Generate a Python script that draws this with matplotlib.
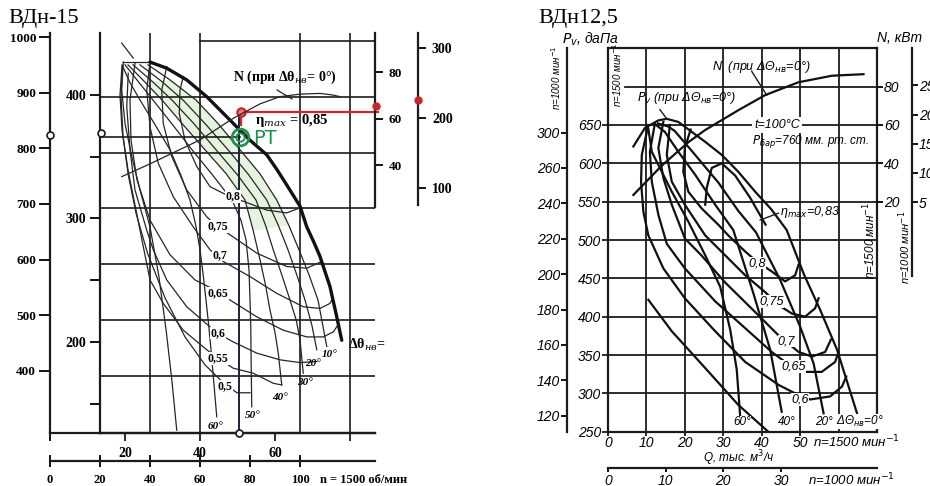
import matplotlib
matplotlib.use('Agg')
import matplotlib.pyplot as plt
from matplotlib import font_manager

W, H = 930, 486

# ---------------- ВДн-15, n = 1500 об/мин : Q (тыс. м3/ч), P (даПа) ----------------
l_deg0_q = [40, 46.7, 54.7, 62.7, 70.7, 76, 80, 86.7, 90.7, 94.7, 100, 102.7, 105.5, 108, 110, 112, 114.5, 116.7]
l_deg0_p = [962, 951, 930, 900, 864, 840, 822, 796, 770, 742, 704, 667, 640, 614, 587, 560, 510, 464]
l_top_q = [29.2, 40]
l_top_p = [962, 962]
l_deg10_q = [39.2, 48, 58.4, 67, 76, 84, 90.7, 95.5, 99.6, 103.7, 107.2, 110.7]
l_deg10_p = [957, 930, 894, 853, 805, 762, 715, 670, 626, 580, 536, 453]
l_deg20_q = [36, 44.5, 53.2, 62, 71.2, 79.5, 86.7, 91.3, 95.2, 98.8, 102, 104.8, 106.7]
l_deg20_p = [957, 928, 894, 852, 805, 760, 715, 670, 626, 580, 536, 490, 447]
l_deg30_q = [33.2, 41, 48.8, 57.5, 66.4, 75, 82.4, 86.2, 89.3, 92.8, 96, 98.5, 100, 101.3]
l_deg30_p = [957, 927, 894, 852, 805, 760, 715, 670, 626, 580, 536, 500, 465, 405]
l_deg40_q = [31.2, 38, 44.8, 53, 62, 70.5, 78, 81.3, 84, 86.2, 88, 90, 91.3, 92.7]
l_deg40_p = [957, 926, 894, 851, 805, 762, 715, 660, 608, 563, 518, 478, 441, 384]
l_deg50_q = [30, 35.5, 41.2, 49, 56.8, 65, 72.8, 76.3, 78.4, 79.6, 80, 80.3, 80.4, 80.7]
l_deg50_p = [957, 926, 894, 850, 805, 760, 715, 680, 644, 590, 536, 490, 447, 345]
l_deg60_q = [28.8, 32, 36, 42, 48, 52.3, 56, 58.3, 60, 61.3, 62.4, 63.5, 64.4, 66.7]
l_deg60_p = [957, 925, 894, 850, 805, 760, 715, 670, 626, 580, 536, 490, 447, 327]
l_edge_q = [29.3, 28.7, 30, 32.7, 36, 40, 43.5, 46.5, 48.8, 50.7]
l_edge_p = [962, 912, 852, 793, 733, 667, 580, 480, 390, 303]

l_eta80_q = [53.3, 52, 51.7, 54, 58.7, 64, 69.3, 76, 86.7, 94.7, 100]
l_eta80_p = [936, 912, 870, 822, 775, 739, 727, 715, 697, 692, 701]
l_eta75_q = [46.7, 44.7, 45.3, 48.7, 54.7, 62.7, 67, 71.3, 82.7, 94.7, 102.7, 108.7]
l_eta75_p = [954, 912, 852, 793, 733, 685, 667, 655, 620, 596, 593, 605]
l_eta70_q = [40, 38.7, 40, 43.3, 49.3, 57.3, 64, 69.3, 80, 90.7, 101.3, 108, 112, 113.2]
l_eta70_p = [962, 912, 846, 781, 721, 667, 626, 605, 578, 548, 524, 521, 530, 540]
l_eta65_q = [34, 32, 32.4, 34.8, 40, 48, 58, 66, 72, 82.7, 93.3, 102.7, 109.3, 113.3, 115]
l_eta65_p = [960, 894, 822, 751, 679, 617, 572, 554, 536, 506, 482, 470, 470, 479, 490]
l_eta60_q = [31.3, 30.7, 32, 34, 38.7, 41.3, 46.7, 54.7, 64, 67.3, 73.3, 82.7, 92, 100, 106.7]
l_eta60_p = [942, 882, 805, 733, 661, 626, 572, 524, 488, 476, 461, 441, 429, 424, 426]
l_eta55_q = [28.8, 28, 28.8, 31.2, 34.4, 37.3, 40, 45.3, 53.3, 62.7, 67.2, 73.3, 81.3, 89.3, 92.7]
l_eta55_p = [955, 903, 840, 769, 697, 632, 572, 530, 482, 447, 432, 414, 405, 387, 384]
l_eta50_q = [29, 28.4, 29.2, 31.3, 34.5, 39, 46, 54, 62, 70, 74.8, 80]
l_eta50_p = [955, 900, 830, 760, 690, 620, 540, 470, 420, 385, 370, 370]

# мощность N, кВт
l_n_q = [28.7, 40, 60, 73.3, 84, 92, 100, 108, 113.3, 116]
l_n_kw = [35, 40.5, 50.8, 60.1, 66.3, 69.4, 70.5, 70.8, 70.1, 69.4]

# рабочая точка
l_op_q, l_op_p = 76.4, 872.6
l_pt_q, l_pt_p = 76, 828
l_op_kw, l_op_far = 65.4, 225.7

l_grid_q = [40, 60, 100, 120]
l_grid_p = [400, 500, 600, 700, 800, 900]
l_scale_p1500 = [400, 500, 600, 700, 800, 900, 1000]
l_scale_p1000 = [200, 300, 400]
l_scale_n = [40, 60, 80]
l_scale_far = [100, 200, 300]
l_scale_q1000 = [20, 40, 60, 80]
l_scale_q1500 = [0, 20, 40, 60, 80, 100]

l_eta_labels = ['0,8', '0,75', '0,7', '0,65', '0,6', '0,55', '0,5']
l_eta_lab_q = [73.2, 67.2, 68, 67.2, 67.2, 67.2, 70]
l_eta_lab_p = [722, 668, 617, 548, 477, 432, 382]
l_deg_labels = ['10°', '20°', '30°', '40°', '50°', '60°']
l_deg_lab_q = [112, 105.2, 102, 92, 81.2, 66]
l_deg_lab_p = [438, 423, 389, 361, 330, 309]

# ---------------- ВДн12,5, n = 1500 мин-1 : Q (тыс. м3/ч), Pv (даПа) ----------------
r_deg0_q = [6.6, 9.6, 13.1, 15.3, 18.3, 21.8, 25.3, 29.6, 33.9, 38.3, 42.5, 46.5, 51, 55.2, 59.6, 64.8]
r_deg0_p = [622, 646, 656, 658, 654, 641, 628, 611, 589, 563, 540, 513, 455, 409, 357, 274]
r_deg20_q = [13, 15.7, 17.4, 22, 28.7, 33.9, 38.5, 44.8, 50, 53.5, 56.1]
r_deg20_p = [652, 648, 642, 615, 575, 538, 510, 448, 387, 339, 274]
r_deg40_q = [12, 14.8, 18.3, 22.7, 27.9, 32.6, 37.8, 42.2, 45.2]
r_deg40_p = [652, 641, 615, 585, 546, 513, 431, 357, 276]
r_deg60_q = [10.5, 11.4, 13.1, 16.6, 20.9, 25.3, 29.2, 31.8, 33.5, 34.4]
r_deg60_p = [645, 615, 598, 563, 524, 480, 439, 383, 331, 270]
r_low_q = [10.5, 16.6, 25.3, 33.9, 41.7]
r_low_p = [422, 381, 333, 285, 250]

r_eta60_q = [10.5, 8.8, 8.6, 9.2, 10.5, 14.4, 20, 27.9, 35.7, 44.4, 48.7, 52.6, 57.8, 60.9, 62]
r_eta60_p = [650, 611, 576, 537, 506, 463, 424, 381, 341, 311, 300, 292, 296, 309, 322]
r_eta65_q = [12.2, 10.9, 11.4, 13.1, 15.3, 20, 27.9, 35.7, 42.6, 46.1, 51.3, 55.6, 59.1, 60]
r_eta65_p = [652, 615, 576, 533, 495, 463, 420, 385, 354, 341, 328, 328, 341, 354]
r_eta70_q = [14.4, 13.1, 14.4, 16.6, 20, 24.3, 30.4, 38.3, 44.3, 49.6, 53.1, 56.5, 58]
r_eta70_p = [654, 620, 581, 546, 502, 480, 445, 406, 376, 354, 348, 354, 370]
r_eta75_q = [16.1, 15.3, 16.6, 20, 25.3, 30.5, 35.7, 40.9, 44.4, 47.9, 51.3, 53.9, 54.8]
r_eta75_p = [650, 611, 576, 546, 506, 480, 454, 432, 415, 404, 400, 411, 424]
r_eta80_q = [21.5, 20, 19.6, 20.9, 24.4, 28.7, 31.3, 35.7, 38.7, 42.6, 46.1, 48.7, 49.6]
r_eta80_p = [644, 620, 589, 563, 541, 520, 506, 485, 472, 459, 446, 454, 468]
r_eta83_q = [25.3, 25.7, 27, 29.6, 33.1, 37, 41]
r_eta83_p = [546, 568, 594, 600, 584, 555, 520]

r_n_q = [6.6, 14, 20.9, 25.3, 34, 40.9, 49.6, 58.3, 66.5]
r_n_kw = [23.5, 38.8, 51, 57.4, 67.8, 75.6, 82.3, 85.7, 86.5]

r_grid_q = [10, 20, 30, 40, 50, 60]
r_grid_p = [300, 350, 400, 450, 500, 550, 600, 650, 700]
r_tick_q = [0, 10, 20, 30, 40, 50]
r_tick_p = [250, 300, 350, 400, 450, 500, 550, 600, 650]
r_tick_n = [20, 40, 60, 80]
r_tick_p1000 = [120, 140, 160, 180, 200, 220, 240, 260, 280]
r_tick_p1000_lab = ['120', '140', '160', '180', '200', '220', '240', '260', '300']
r_tick_n1000 = [5, 10, 15, 20, 25]
r_tick_q1000 = [0, 10, 20, 30]

r_eta_labels = ['0,8', '0,75', '0,7', '0,65', '0,6']
r_eta_lab_q = [38.7, 42.6, 46.5, 48.3, 50]
r_eta_lab_p = [470, 420, 368, 335, 292]
r_deg_labels = ['60°', '40°', '20°', 'ΔΘ$_{нв}$=0°']
r_deg_lab_q = [34.8, 46.5, 56.3, 65.6]
r_deg_lab_p = [263, 263, 263, 263]

# ---------------------------------------------------------------------------
names = {f.name for f in font_manager.fontManager.ttflist}
serif = 'Liberation Serif'
gost = 'Liberation Sans Narrow' if 'Liberation Sans Narrow' in names else 'Liberation Sans'
plt.rcParams['font.family'] = [serif, 'DejaVu Serif']
ink = '#1b1b1b'


def box(x0, y0, x1, y1):
    return [x0 / W, 1 - y1 / H, (x1 - x0) / W, (y1 - y0) / H]


fig = plt.figure(figsize=(W / 100, H / 100), dpi=100)


def ftext(x, y, s, **kw):
    fig.text(x / W, 1 - y / H, s, **kw)


def bare(ax, keep):
    ax.patch.set_visible(False)
    for s in ['top', 'bottom', 'left', 'right']:
        ax.spines[s].set_visible(s in keep)
        ax.spines[s].set_linewidth(1.6)
        ax.spines[s].set_color(ink)


# ============================ ВДн-15 ============================
ax1 = fig.add_axes(box(100, 33, 375, 433))
ax1.set_xlim(20, 130)
ax1.set_ylim(298, 1014)
bare(ax1, ['bottom'])
ax1.set_xticks([])
ax1.set_yticks([])
for q in l_grid_q:
    ax1.axvline(q, color=ink, lw=1.2)
for p in l_grid_p:
    ax1.axhline(p, color=ink, lw=1.2)
ax1.plot([60, 130], [1000, 1000], color=ink, lw=1.2)

# лёгкая зелёная подсветка рабочей зоны
ax1.fill(l_deg10_q[1:8] + l_deg40_q[1:8][::-1], l_deg10_p[1:8] + l_deg40_p[1:8][::-1],
         color='#e6f3df', lw=0, zorder=0)

thin = dict(color='#262626', lw=0.9)
for q, p in [(l_deg10_q, l_deg10_p), (l_deg20_q, l_deg20_p), (l_deg30_q, l_deg30_p),
             (l_deg40_q, l_deg40_p), (l_deg50_q, l_deg50_p), (l_deg60_q, l_deg60_p),
             (l_edge_q, l_edge_p), (l_top_q, l_top_p),
             (l_eta80_q, l_eta80_p), (l_eta75_q, l_eta75_p), (l_eta70_q, l_eta70_p),
             (l_eta65_q, l_eta65_p), (l_eta60_q, l_eta60_p), (l_eta55_q, l_eta55_p),
             (l_eta50_q, l_eta50_p)]:
    ax1.plot(q, p, **thin)
ax1.plot(l_deg0_q, l_deg0_p, color='#111111', lw=2.4, solid_capstyle='round')
ax1.plot([28.7, 33.3], [996, 969], **thin)
ax1.plot([90.8, 96.8], [912, 896], **thin)

# рабочая точка
ax1.plot([75.6, 75.6], [l_op_p, 298], color='#1d2233', lw=1.4)
ax1.plot(75.6, 298, 'o', mfc='white', mec='#1d2240', ms=5, mew=1.3, clip_on=False, zorder=5)
ax1.plot([20, l_pt_q], [l_pt_p, l_pt_p], color=ink, lw=1.2)
ax1.plot([l_op_q, 131], [l_op_p, l_op_p], color='#c8282d', lw=1.6, clip_on=False)
ax1.plot([l_op_q, l_op_q], [l_op_p, 849], color='#c8282d', lw=1.6)
ax1.plot(l_op_q, l_op_p, 'o', mfc='#e87a7a', mec='#c8282d', ms=6, mew=1.6, zorder=6)
ax1.plot(l_pt_q, l_pt_p, 'o', mfc='none', mec='#239050', ms=12, mew=2.0, zorder=6)
ax1.plot(l_pt_q, l_pt_p, 'o', mfc='none', mec='#239050', ms=6, mew=1.4, zorder=6)
ax1.text(81.2, 826, 'PT', color='#239050', fontsize=14, family='DejaVu Sans', va='center')

ax1.text(94, 935, 'N (при Δθ$_{нв}$= 0°)', fontsize=10, fontweight='bold', ha='center',
         va='center', math_fontfamily='dejavuserif')
ax1.text(82, 858, 'η$_{max}$ = 0,85', fontsize=10.5, fontweight='bold', va='center',
         math_fontfamily='dejavuserif')
for s, q, p in zip(l_eta_labels, l_eta_lab_q, l_eta_lab_p):
    ax1.text(q, p, s, fontsize=8.5, fontweight='bold', ha='center', va='center',
             bbox=dict(fc='white', ec='none', pad=0.3))
for s, q, p in zip(l_deg_labels, l_deg_lab_q, l_deg_lab_p):
    ax1.text(q, p, s, fontsize=8, fontweight='bold', fontstyle='italic', ha='center', va='center')
ax1.text(119.2, 455, 'Δθ$_{нв}$=', fontsize=10, fontweight='bold', va='center',
         math_fontfamily='dejavuserif')

# шкала Q при n = 1000 об/мин (верхний ряд подписей)
sec = ax1.secondary_xaxis('bottom', functions=(lambda q: q / 1.5, lambda q: q * 1.5))
sec.set_xticks(l_scale_q1000, ['20', '40', '60', ''], fontsize=10, fontweight='bold')
sec.tick_params(length=6, width=1.3, pad=4, color=ink)
sec.spines['bottom'].set_linewidth(1.6)

# N, кВт при n = 1500
ax1_n = ax1.twinx()
ax1_n.set_ylim(-75.3, 96.8)
bare(ax1_n, ['right'])
ax1_n.spines['right'].set_bounds(22, 96.8)
ax1_n.set_yticks(l_scale_n, [str(v) for v in l_scale_n], fontsize=9.5, fontweight='bold')
ax1_n.tick_params(axis='y', length=6, width=1.3, pad=4)
ax1_n.plot(l_n_q, l_n_kw, color='#262626', lw=0.9)
ax1_n.plot(130.5, l_op_kw, 'o', color='#c8282d', ms=5, clip_on=False, zorder=6)

# P при n = 1500 (внешняя шкала)
ax1_out = fig.add_axes(box(50, 33, 100, 433))
ax1_out.set_xlim(0, 1)
ax1_out.set_ylim(288.6, 1007.2)
bare(ax1_out, ['left', 'bottom'])
ax1_out.set_yticks(l_scale_p1500, [str(v) for v in l_scale_p1500], fontsize=9.5, fontweight='bold')
ax1_out.tick_params(axis='y', length=8, width=1.3, pad=2)
ax1_out.set_xticks([0], [''])
ax1_out.tick_params(axis='x', length=6, width=1.3)
ax1_out.plot(0, 824, 'o', mfc='white', mec=ink, ms=5, mew=1.2, clip_on=False, zorder=5)

# P при n = 1000
ax1_in = fig.add_axes(box(100, 33, 110, 433))
ax1_in.set_xlim(0, 1)
ax1_in.set_ylim(126.3, 450.2)
bare(ax1_in, ['left'])
ax1_in.set_xticks([])
ax1_in.set_yticks(l_scale_p1000, [str(v) for v in l_scale_p1000], fontsize=10, fontweight='bold')
ax1_in.set_yticks([150, 250, 350], minor=True)
ax1_in.tick_params(axis='y', which='both', length=7, width=1.3, pad=3)
ax1_in.plot(0.05, 369, 'o', mfc='white', mec=ink, ms=5, mew=1.2, clip_on=False, zorder=5)

# дальняя правая шкала
ax1_far = fig.add_axes(box(375, 33, 418, 433))
ax1_far.set_ylim(-250, 321.4)
ax1_far.set_xlim(0, 1)
bare(ax1_far, ['right'])
ax1_far.spines['right'].set_bounds(75, 321.4)
ax1_far.set_xticks([])
ax1_far.yaxis.tick_right()
ax1_far.set_yticks(l_scale_far, [str(v) for v in l_scale_far], fontsize=10, fontweight='bold')
ax1_far.tick_params(axis='y', length=6, width=1.3, pad=4)
ax1_far.plot(1, l_op_far, 'o', color='#c8282d', ms=5, clip_on=False, zorder=6)

# шкала Q при n = 1500
ax1_bot = fig.add_axes(box(50, 460, 375, 461))
ax1_bot.set_xlim(0, 130)
bare(ax1_bot, ['bottom'])
ax1_bot.set_yticks([])
ax1_bot.set_xticks(l_scale_q1500, [str(v) for v in l_scale_q1500], fontsize=9, fontweight='bold')
ax1_bot.tick_params(axis='x', direction='inout', length=9, width=1.3, pad=5)
ftext(320, 480, 'n = 1500 об/мин', fontsize=9, fontweight='bold', va='center')

ftext(8, 19, 'ВДн-15', fontsize=16, va='center')

# ============================ ВДн12,5 ============================
it = dict(family=[gost, 'DejaVu Sans'], fontstyle='italic')
ax2 = fig.add_axes(box(608, 48.3, 877, 431.7))
ax2.set_xlim(0, 70)
ax2.set_ylim(250, 750)
bare(ax2, ['top', 'bottom', 'left', 'right'])
for q in r_grid_q:
    ax2.axvline(q, color=ink, lw=1.3)
for p in r_grid_p:
    ax2.axhline(p, xmin=0.065 if p == 700 else 0, color=ink, lw=1.3)
ax2.set_xticks(r_tick_q, [str(v) for v in r_tick_q], fontsize=10, **it)
ax2.set_yticks(r_tick_p, [str(v) for v in r_tick_p], fontsize=10, **it)
ax2.tick_params(length=4, width=1.3, pad=1, color=ink)
ax2.tick_params(axis='x', length=3, pad=0)

thick = dict(color='#111111', lw=1.6)
for q, p in [(r_deg0_q, r_deg0_p), (r_deg20_q, r_deg20_p), (r_deg40_q, r_deg40_p),
             (r_deg60_q, r_deg60_p), (r_low_q, r_low_p),
             (r_eta60_q, r_eta60_p), (r_eta65_q, r_eta65_p), (r_eta70_q, r_eta70_p),
             (r_eta75_q, r_eta75_p), (r_eta80_q, r_eta80_p), (r_eta83_q, r_eta83_p)]:
    ax2.plot(q, p, **thick)
ax2.plot([13.5, 15.3], [670, 658], color=ink, lw=1.0)
ax2.plot([37.4, 41.3], [720, 689], color=ink, lw=1.0)
ax2.plot([39.6, 44.3], [526, 535], color=ink, lw=1.0)

for s, q, p in zip(r_eta_labels, r_eta_lab_q, r_eta_lab_p):
    ax2.text(q, p, s, fontsize=9, ha='center', va='center',
             bbox=dict(fc='white', ec='none', pad=0.2), **it)
for s, q, p in zip(r_deg_labels, r_deg_lab_q, r_deg_lab_p):
    ax2.text(q, p, s, fontsize=8.5, ha='center', va='center',
             bbox=dict(fc='white', ec='none', pad=0.1), **it)
ax2.text(27, 726, 'N  (при ΔΘ$_{нв}$=0°)', fontsize=9, va='center', **it)
ax2.text(7.5, 685, '$P_v$ (при ΔΘ$_{нв}$=0°)', fontsize=9, va='center', **it)
ax2.text(44, 650, 't=100°C', fontsize=9, ha='center', va='center',
         bbox=dict(fc='white', ec='none', pad=1.5), **it)
ax2.text(37.5, 629, '$P_{бар}$=760 мм. рт. ст.', fontsize=8.5, va='center', **it)
ax2.text(44.8, 537, 'η$_{max}$=0,83', fontsize=9, va='center', **it)
ax2.text(2.3, 715, 'n=1500 мин$^{-1}$', fontsize=7, rotation=90, ha='center', va='center', **it)
ax2.text(68.3, 500, 'n=1500 мин$^{-1}$', fontsize=8.5, rotation=90, ha='center', va='center', **it)

ax2_n = ax2.twinx()
ax2_n.set_ylim(-100, 100)
bare(ax2_n, [])
ax2_n.set_yticks(r_tick_n, [str(v) for v in r_tick_n], fontsize=10, **it)
ax2_n.tick_params(axis='y', length=4, width=1.3, pad=1)
ax2_n.plot(r_n_q, r_n_kw, **thick)

ax2_out = fig.add_axes(box(567, 48.3, 608, 431.7))
ax2_out.set_ylim(111, 327.6)
ax2_out.set_xlim(0, 1)
bare(ax2_out, ['left'])
ax2_out.set_xticks([])
ax2_out.set_yticks(r_tick_p1000, r_tick_p1000_lab, fontsize=10, **it)
ax2_out.tick_params(axis='y', length=4, width=1.3, pad=1)

ax2_far = fig.add_axes(box(877, 48.3, 912, 431.7))
ax2_far.set_ylim(-34.3, 31.35)
ax2_far.set_xlim(0, 1)
bare(ax2_far, ['right'])
ax2_far.spines['right'].set_bounds(-7.6, 31.35)
ax2_far.set_xticks([])
ax2_far.yaxis.tick_right()
ax2_far.set_yticks(r_tick_n1000, [str(v) for v in r_tick_n1000], fontsize=10, **it)
ax2_far.tick_params(axis='y', length=4, width=1.3, pad=1)

ax2_bot = fig.add_axes(box(608, 467, 877, 468))
ax2_bot.set_xlim(0, 70 / 1.5)
bare(ax2_bot, ['bottom'])
ax2_bot.set_yticks([])
ax2_bot.set_xticks(r_tick_q1000, [str(v) for v in r_tick_q1000], fontsize=10, **it)
ax2_bot.tick_params(axis='x', length=3, width=1.3, pad=1)

ftext(813, 442, 'n=1500 мин$^{-1}$', fontsize=9.5, va='center', **it)
ftext(739, 458, 'Q, тыс. м$^3$/ч', fontsize=8.5, ha='center', va='center', **it)
ftext(808, 480, 'n=1000 мин$^{-1}$', fontsize=9.5, va='center', **it)
ftext(562, 39, '$P_v$, даПа', fontsize=10, va='center', **it)
ftext(877, 38, 'N, кВт', fontsize=10, va='center', **it)
ftext(556, 78, 'n=1000 мин$^{-1}$', fontsize=7, rotation=90, ha='center', va='center', **it)
ftext(905, 247, 'n=1000 мин$^{-1}$', fontsize=8, rotation=90, ha='center', va='center', **it)
ftext(538, 18, 'ВДн12,5', fontsize=16, va='center')

fig.savefig('out.png', dpi=100)
